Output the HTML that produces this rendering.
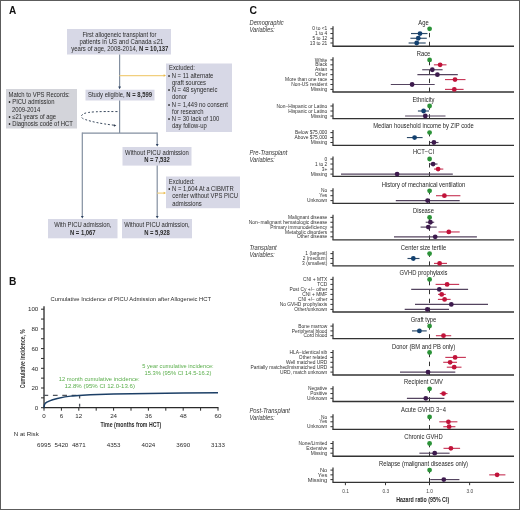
<!DOCTYPE html>
<html><head><meta charset="utf-8"><style>
html,body{margin:0;padding:0;background:#fff;}
svg{display:block;will-change:transform;font-family:"Liberation Sans", sans-serif;}
</style></head><body>
<svg width="520" height="510" viewBox="0 0 520 510">
<rect x="0" y="0" width="520" height="510" fill="#fff"/>
<text x="9.00" y="13.70" font-size="10.0" font-weight="bold" fill="#111">A</text>
<rect x="67" y="29" width="104.00" height="25.50" fill="#d7d8e6"/>
<text x="119.40" y="36.77" font-size="6.3" text-anchor="middle" textLength="74" lengthAdjust="spacingAndGlyphs" fill="#2b2b2b">First allogeneic transplant for</text>
<text x="121.40" y="43.57" font-size="6.3" text-anchor="middle" textLength="84" lengthAdjust="spacingAndGlyphs" fill="#2b2b2b">patients in US and Canada ≤21</text>
<text x="119.80" y="50.97" font-size="6.3" text-anchor="middle" textLength="97" lengthAdjust="spacingAndGlyphs" fill="#2b2b2b">years of age, 2008-2014, <tspan font-weight="bold">N = 10,137</tspan></text>
<line x1="119.6" y1="54.5" x2="119.6" y2="88" stroke="#838fa0" stroke-width="1.2"/>
<polygon points="118.19999999999999,86.60000000000001 121.0,86.60000000000001 119.6,89.2" fill="#2e4260"/>
<line x1="119.5" y1="75.6" x2="164.5" y2="75.6" stroke="#f1cf7e" stroke-width="1.2"/>
<polygon points="163.66,74.33999999999999 163.66,76.86 166,75.6" fill="#e8b84a"/>
<rect x="166" y="63.5" width="66.00" height="68.50" fill="#d7d8e6"/>
<text x="169.00" y="70.47" font-size="6.3" textLength="25.87" lengthAdjust="spacingAndGlyphs" fill="#2b2b2b">Excluded:</text>
<text x="168.00" y="77.57" font-size="6.3" textLength="45.34" lengthAdjust="spacingAndGlyphs" fill="#2b2b2b">• N = 11 alternate</text>
<text x="172.00" y="84.87" font-size="6.3" textLength="34.05" lengthAdjust="spacingAndGlyphs" fill="#2b2b2b">graft sources</text>
<text x="168.00" y="92.17" font-size="6.3" textLength="49.38" lengthAdjust="spacingAndGlyphs" fill="#2b2b2b">• N = 48 syngeneic</text>
<text x="172.00" y="99.37" font-size="6.3" textLength="15.06" lengthAdjust="spacingAndGlyphs" fill="#2b2b2b">donor</text>
<text x="168.00" y="106.67" font-size="6.3" textLength="59.86" lengthAdjust="spacingAndGlyphs" fill="#2b2b2b">• N = 1,449 no consent</text>
<text x="172.00" y="113.87" font-size="6.3" textLength="31.43" lengthAdjust="spacingAndGlyphs" fill="#2b2b2b">for research</text>
<text x="168.00" y="121.07" font-size="6.3" textLength="51.34" lengthAdjust="spacingAndGlyphs" fill="#2b2b2b">• N = 30 lack of 100</text>
<text x="172.00" y="128.37" font-size="6.3" textLength="34.71" lengthAdjust="spacingAndGlyphs" fill="#2b2b2b">day follow-up</text>
<rect x="85.5" y="89.7" width="69.00" height="10.80" fill="#d7d8e6"/>
<text x="120.00" y="97.47" font-size="6.3" text-anchor="middle" textLength="64.02" lengthAdjust="spacingAndGlyphs" fill="#2b2b2b">Study eligible, <tspan font-weight="bold">N = 8,599</tspan></text>
<rect x="6" y="89" width="71.00" height="39.50" fill="#d3d4da"/>
<text x="8.50" y="96.97" font-size="6.3" textLength="61.22" lengthAdjust="spacingAndGlyphs" fill="#2b2b2b">Match to VPS Records:</text>
<text x="8.50" y="104.37" font-size="6.3" textLength="45.93" lengthAdjust="spacingAndGlyphs" fill="#2b2b2b">• PICU admission</text>
<text x="12.00" y="111.57" font-size="6.3" textLength="28.17" lengthAdjust="spacingAndGlyphs" fill="#2b2b2b">2009-2014</text>
<text x="8.50" y="118.77" font-size="6.3" textLength="47.54" lengthAdjust="spacingAndGlyphs" fill="#2b2b2b">• ≤21 years of age</text>
<text x="8.50" y="126.27" font-size="6.3" textLength="64.26" lengthAdjust="spacingAndGlyphs" fill="#2b2b2b">• Diagnosis code of HCT</text>
<line x1="119.6" y1="100.5" x2="119.6" y2="133.1" stroke="#838fa0" stroke-width="1.2"/>
<path d="M117.5,111.6 C100,111.4 88,111.6 83.5,113.8 C80,115.7 81,118.5 85.5,119.6 C92,121.8 100,123.5 114,125.2" fill="none" stroke="#3a4a5e" stroke-width="1.0" stroke-dasharray="2,1.9"/>
<polygon points="113.96,124.33999999999999 113.96,126.86 116.3,125.6" fill="#2e3a4e"/>
<line x1="82.3" y1="133.1" x2="157.2" y2="133.1" stroke="#838fa0" stroke-width="1.2"/>
<line x1="82.3" y1="132.5" x2="82.3" y2="217" stroke="#838fa0" stroke-width="1.2"/>
<polygon points="80.89999999999999,216.0 83.7,216.0 82.3,218.6" fill="#2e4260"/>
<line x1="157.2" y1="132.5" x2="157.2" y2="145.5" stroke="#838fa0" stroke-width="1.2"/>
<polygon points="155.79999999999998,144.0 158.6,144.0 157.2,146.6" fill="#2e4260"/>
<rect x="122.5" y="147" width="69.00" height="18.60" fill="#d7d8e6"/>
<text x="157.00" y="155.17" font-size="6.3" text-anchor="middle" textLength="63.83" lengthAdjust="spacingAndGlyphs" fill="#2b2b2b">Without PICU admission</text>
<text x="157.00" y="162.27" font-size="6.3" text-anchor="middle" font-weight="bold" textLength="25.71" lengthAdjust="spacingAndGlyphs" fill="#2b2b2b">N = 7,532</text>
<line x1="157.2" y1="165.6" x2="157.2" y2="217" stroke="#838fa0" stroke-width="1.2"/>
<polygon points="155.79999999999998,216.0 158.6,216.0 157.2,218.6" fill="#2e4260"/>
<line x1="157.2" y1="193.1" x2="164.5" y2="193.1" stroke="#f1cf7e" stroke-width="1.2"/>
<polygon points="163.66,191.84 163.66,194.35999999999999 166,193.1" fill="#e8b84a"/>
<rect x="166" y="176.5" width="74.00" height="31.70" fill="#d7d8e6"/>
<text x="168.80" y="184.17" font-size="6.3" textLength="25.87" lengthAdjust="spacingAndGlyphs" fill="#2b2b2b">Excluded:</text>
<text x="168.30" y="191.07" font-size="6.3" textLength="65.41" lengthAdjust="spacingAndGlyphs" fill="#2b2b2b">• N = 1,604 At a CIBMTR</text>
<text x="172.30" y="198.37" font-size="6.3" textLength="65.8" lengthAdjust="spacingAndGlyphs" fill="#2b2b2b">center without VPS PICU</text>
<text x="172.30" y="205.67" font-size="6.3" textLength="29.46" lengthAdjust="spacingAndGlyphs" fill="#2b2b2b">admissions</text>
<rect x="48" y="219" width="69.50" height="19.30" fill="#d7d8e6"/>
<text x="82.80" y="227.27" font-size="6.3" text-anchor="middle" textLength="57.28" lengthAdjust="spacingAndGlyphs" fill="#2b2b2b">With PICU admission,</text>
<text x="82.80" y="234.57" font-size="6.3" text-anchor="middle" font-weight="bold" textLength="25.71" lengthAdjust="spacingAndGlyphs" fill="#2b2b2b">N = 1,067</text>
<rect x="122" y="219" width="70.00" height="19.30" fill="#d7d8e6"/>
<text x="157.00" y="227.27" font-size="6.3" text-anchor="middle" textLength="65.47" lengthAdjust="spacingAndGlyphs" fill="#2b2b2b">Without PICU admission,</text>
<text x="157.00" y="234.57" font-size="6.3" text-anchor="middle" font-weight="bold" textLength="25.71" lengthAdjust="spacingAndGlyphs" fill="#2b2b2b">N = 5,928</text>
<text x="9.00" y="285.47" font-size="10.2" font-weight="bold" fill="#111">B</text>
<text x="50.50" y="301.31" font-size="6.15" textLength="160.5" lengthAdjust="spacingAndGlyphs" fill="#2b2b2b">Cumulative Incidence of PICU Admission after Allogeneic HCT</text>
<line x1="44.0" y1="306.3" x2="44.0" y2="408.2" stroke="#2b2b2b" stroke-width="1.3"/>
<line x1="41.0" y1="407.7" x2="44.0" y2="407.7" stroke="#2b2b2b" stroke-width="1"/>
<line x1="41.0" y1="397.84999999999997" x2="44.0" y2="397.84999999999997" stroke="#2b2b2b" stroke-width="1"/>
<line x1="41.0" y1="388.0" x2="44.0" y2="388.0" stroke="#2b2b2b" stroke-width="1"/>
<line x1="41.0" y1="378.15" x2="44.0" y2="378.15" stroke="#2b2b2b" stroke-width="1"/>
<line x1="41.0" y1="368.3" x2="44.0" y2="368.3" stroke="#2b2b2b" stroke-width="1"/>
<line x1="41.0" y1="358.45" x2="44.0" y2="358.45" stroke="#2b2b2b" stroke-width="1"/>
<line x1="41.0" y1="348.59999999999997" x2="44.0" y2="348.59999999999997" stroke="#2b2b2b" stroke-width="1"/>
<line x1="41.0" y1="338.75" x2="44.0" y2="338.75" stroke="#2b2b2b" stroke-width="1"/>
<line x1="41.0" y1="328.9" x2="44.0" y2="328.9" stroke="#2b2b2b" stroke-width="1"/>
<line x1="41.0" y1="319.04999999999995" x2="44.0" y2="319.04999999999995" stroke="#2b2b2b" stroke-width="1"/>
<line x1="41.0" y1="309.2" x2="44.0" y2="309.2" stroke="#2b2b2b" stroke-width="1"/>
<text x="38.30" y="409.93" font-size="6.2" text-anchor="end" fill="#2b2b2b">0</text>
<text x="38.30" y="390.23" font-size="6.2" text-anchor="end" fill="#2b2b2b">20</text>
<text x="38.30" y="370.53" font-size="6.2" text-anchor="end" fill="#2b2b2b">40</text>
<text x="38.30" y="350.83" font-size="6.2" text-anchor="end" fill="#2b2b2b">60</text>
<text x="38.30" y="331.13" font-size="6.2" text-anchor="end" fill="#2b2b2b">80</text>
<text x="38.30" y="311.43" font-size="6.2" text-anchor="end" fill="#2b2b2b">100</text>
<text x="0" y="0" font-size="7.4" font-weight="bold" text-anchor="middle" fill="#3a3a3a" transform="translate(24.9,358.7) rotate(-90)" textLength="59" lengthAdjust="spacingAndGlyphs">Cumulative incidence, %</text>
<line x1="43.5" y1="407.7" x2="218.5" y2="407.7" stroke="#2b2b2b" stroke-width="1.2"/>
<line x1="44.0" y1="407.7" x2="44.0" y2="410.7" stroke="#2b2b2b" stroke-width="1"/>
<line x1="61.4" y1="407.7" x2="61.4" y2="410.7" stroke="#2b2b2b" stroke-width="1"/>
<line x1="78.8" y1="407.7" x2="78.8" y2="410.7" stroke="#2b2b2b" stroke-width="1"/>
<line x1="96.2" y1="407.7" x2="96.2" y2="410.7" stroke="#2b2b2b" stroke-width="1"/>
<line x1="113.6" y1="407.7" x2="113.6" y2="410.7" stroke="#2b2b2b" stroke-width="1"/>
<line x1="131.0" y1="407.7" x2="131.0" y2="410.7" stroke="#2b2b2b" stroke-width="1"/>
<line x1="148.4" y1="407.7" x2="148.4" y2="410.7" stroke="#2b2b2b" stroke-width="1"/>
<line x1="165.8" y1="407.7" x2="165.8" y2="410.7" stroke="#2b2b2b" stroke-width="1"/>
<line x1="183.2" y1="407.7" x2="183.2" y2="410.7" stroke="#2b2b2b" stroke-width="1"/>
<line x1="200.6" y1="407.7" x2="200.6" y2="410.7" stroke="#2b2b2b" stroke-width="1"/>
<line x1="218.0" y1="407.7" x2="218.0" y2="410.7" stroke="#2b2b2b" stroke-width="1"/>
<text x="44.00" y="418.23" font-size="6.2" text-anchor="middle" fill="#2b2b2b">0</text>
<text x="61.40" y="418.23" font-size="6.2" text-anchor="middle" fill="#2b2b2b">6</text>
<text x="78.80" y="418.23" font-size="6.2" text-anchor="middle" fill="#2b2b2b">12</text>
<text x="113.60" y="418.23" font-size="6.2" text-anchor="middle" fill="#2b2b2b">24</text>
<text x="148.40" y="418.23" font-size="6.2" text-anchor="middle" fill="#2b2b2b">36</text>
<text x="183.20" y="418.23" font-size="6.2" text-anchor="middle" fill="#2b2b2b">48</text>
<text x="218.00" y="418.23" font-size="6.2" text-anchor="middle" fill="#2b2b2b">60</text>
<text x="100.50" y="426.56" font-size="7.4" font-weight="bold" textLength="60.8" lengthAdjust="spacingAndGlyphs" fill="#2b2b2b">Time (months from HCT)</text>
<line x1="43.5" y1="395.3" x2="79.6" y2="395.3" stroke="#50555c" stroke-width="1.3" stroke-dasharray="4.7,4.7"/>
<line x1="79.6" y1="395.6" x2="79.6" y2="407.7" stroke="#50555c" stroke-width="1.3" stroke-dasharray="2.9,5.3"/>
<path d="M44.00,407.70 L44.12,406.32 L44.35,405.04 L45.10,403.46 L46.90,402.18 L49.71,400.90 L52.70,399.82 L57.34,398.44 L64.88,396.87 L72.71,395.88 L78.80,395.39 L90.40,394.80 L113.60,394.11 L148.40,393.52 L183.20,393.12 L218.00,392.83" fill="none" stroke="#1c3f66" stroke-width="1.5" stroke-linejoin="round"/>
<text x="58.70" y="381.10" font-size="6.1" textLength="81" lengthAdjust="spacingAndGlyphs" fill="#5aae4b">12 month cumulative incidence:</text>
<text x="64.50" y="388.20" font-size="6.1" textLength="70.5" lengthAdjust="spacingAndGlyphs" fill="#5aae4b">12.8% (95% CI 12.0-13.6)</text>
<text x="142.30" y="368.00" font-size="6.1" textLength="71.4" lengthAdjust="spacingAndGlyphs" fill="#5aae4b">5 year cumulative incidence:</text>
<text x="144.50" y="374.90" font-size="6.1" textLength="67" lengthAdjust="spacingAndGlyphs" fill="#5aae4b">15.3% (95% CI 14.5-16.2)</text>
<text x="13.70" y="436.33" font-size="6.2" fill="#2b2b2b">N at Risk</text>
<text x="44.00" y="446.73" font-size="6.2" text-anchor="middle" fill="#2b2b2b">6995</text>
<text x="61.40" y="446.73" font-size="6.2" text-anchor="middle" fill="#2b2b2b">5420</text>
<text x="78.80" y="446.73" font-size="6.2" text-anchor="middle" fill="#2b2b2b">4871</text>
<text x="113.60" y="446.73" font-size="6.2" text-anchor="middle" fill="#2b2b2b">4353</text>
<text x="148.40" y="446.73" font-size="6.2" text-anchor="middle" fill="#2b2b2b">4024</text>
<text x="183.20" y="446.73" font-size="6.2" text-anchor="middle" fill="#2b2b2b">3690</text>
<text x="218.00" y="446.73" font-size="6.2" text-anchor="middle" fill="#2b2b2b">3133</text>
<text x="249.60" y="14.04" font-size="10.4" font-weight="bold" fill="#111">C</text>
<text x="249.50" y="25.30" font-size="6.4" font-style="italic" textLength="34.25" lengthAdjust="spacingAndGlyphs" fill="#333">Demographic</text>
<text x="249.50" y="31.80" font-size="6.4" font-style="italic" textLength="25.18" lengthAdjust="spacingAndGlyphs" fill="#333">Variables:</text>
<text x="249.50" y="154.50" font-size="6.4" font-style="italic" textLength="37.88" lengthAdjust="spacingAndGlyphs" fill="#333">Pre-Transplant</text>
<text x="249.50" y="161.60" font-size="6.4" font-style="italic" textLength="25.18" lengthAdjust="spacingAndGlyphs" fill="#333">Variables:</text>
<text x="249.50" y="249.50" font-size="6.4" font-style="italic" textLength="27.0" lengthAdjust="spacingAndGlyphs" fill="#333">Transplant</text>
<text x="249.50" y="256.80" font-size="6.4" font-style="italic" textLength="25.18" lengthAdjust="spacingAndGlyphs" fill="#333">Variables:</text>
<text x="249.50" y="412.90" font-size="6.4" font-style="italic" textLength="40.44" lengthAdjust="spacingAndGlyphs" fill="#333">Post-Transplant</text>
<text x="249.50" y="419.80" font-size="6.4" font-style="italic" textLength="25.18" lengthAdjust="spacingAndGlyphs" fill="#333">Variables:</text>
<text x="423.50" y="25.07" font-size="6.3" text-anchor="middle" textLength="10.37" lengthAdjust="spacingAndGlyphs" fill="#262626">Age</text>
<line x1="333.0" y1="26.2" x2="333.0" y2="46.2" stroke="#333333" stroke-width="1.2"/>
<line x1="332.4" y1="46.2" x2="514.0" y2="46.2" stroke="#333333" stroke-width="1.35"/>
<line x1="429.5" y1="46.2" x2="429.5" y2="28.8" stroke="#333" stroke-width="1.0" stroke-dasharray="4.4,4.5"/>
<line x1="330.4" y1="28.8" x2="333.0" y2="28.8" stroke="#333333" stroke-width="1.0"/>
<text x="327.30" y="30.44" font-size="4.55" text-anchor="end" textLength="15.02" lengthAdjust="spacingAndGlyphs" fill="#333">0 to <1</text>
<circle cx="429.6" cy="28.8" r="2.4" fill="#2b9338"/>
<line x1="330.4" y1="33.53333333333333" x2="333.0" y2="33.53333333333333" stroke="#333333" stroke-width="1.0"/>
<text x="327.30" y="35.17" font-size="4.55" text-anchor="end" textLength="12.18" lengthAdjust="spacingAndGlyphs" fill="#333">1 to 4</text>
<line x1="411" y1="33.53333333333333" x2="427.5" y2="33.53333333333333" stroke="#2d4a68" stroke-width="1.15"/>
<circle cx="420.0" cy="33.53333333333333" r="2.4" fill="#12406f"/>
<line x1="330.4" y1="38.266666666666666" x2="333.0" y2="38.266666666666666" stroke="#333333" stroke-width="1.0"/>
<text x="327.30" y="39.90" font-size="4.55" text-anchor="end" textLength="14.89" lengthAdjust="spacingAndGlyphs" fill="#333">5 to 12</text>
<line x1="410.4" y1="38.266666666666666" x2="426.8" y2="38.266666666666666" stroke="#2d4a68" stroke-width="1.15"/>
<circle cx="418.3" cy="38.266666666666666" r="2.4" fill="#12406f"/>
<line x1="330.4" y1="43.0" x2="333.0" y2="43.0" stroke="#333333" stroke-width="1.0"/>
<text x="327.30" y="44.64" font-size="4.55" text-anchor="end" textLength="17.59" lengthAdjust="spacingAndGlyphs" fill="#333">13 to 21</text>
<line x1="408.6" y1="43.0" x2="425.7" y2="43.0" stroke="#2d4a68" stroke-width="1.15"/>
<circle cx="416.7" cy="43.0" r="2.4" fill="#12406f"/>
<text x="423.50" y="56.17" font-size="6.3" text-anchor="middle" textLength="13.6" lengthAdjust="spacingAndGlyphs" fill="#262626">Race</text>
<line x1="333.0" y1="57.3" x2="333.0" y2="92.0" stroke="#333333" stroke-width="1.2"/>
<line x1="332.4" y1="92.0" x2="514.0" y2="92.0" stroke="#333333" stroke-width="1.35"/>
<line x1="429.5" y1="92.0" x2="429.5" y2="59.9" stroke="#333" stroke-width="1.0" stroke-dasharray="4.4,4.5"/>
<line x1="330.4" y1="59.9" x2="333.0" y2="59.9" stroke="#333333" stroke-width="1.0"/>
<text x="327.30" y="61.54" font-size="4.55" text-anchor="end" textLength="12.44" lengthAdjust="spacingAndGlyphs" fill="#333">White</text>
<circle cx="429.6" cy="59.9" r="2.4" fill="#2b9338"/>
<line x1="330.4" y1="64.81666666666666" x2="333.0" y2="64.81666666666666" stroke="#333333" stroke-width="1.0"/>
<text x="327.30" y="66.45" font-size="4.55" text-anchor="end" textLength="11.91" lengthAdjust="spacingAndGlyphs" fill="#333">Black</text>
<line x1="433.9" y1="64.81666666666666" x2="446.5" y2="64.81666666666666" stroke="#c83a5a" stroke-width="1.15"/>
<circle cx="440.1" cy="64.81666666666666" r="2.4" fill="#c1133a"/>
<line x1="330.4" y1="69.73333333333333" x2="333.0" y2="69.73333333333333" stroke="#333333" stroke-width="1.0"/>
<text x="327.30" y="71.37" font-size="4.55" text-anchor="end" textLength="12.18" lengthAdjust="spacingAndGlyphs" fill="#333">Asian</text>
<line x1="422.2" y1="69.73333333333333" x2="442.6" y2="69.73333333333333" stroke="#54445f" stroke-width="1.15"/>
<circle cx="432.3" cy="69.73333333333333" r="2.4" fill="#3d1a4d"/>
<line x1="330.4" y1="74.65" x2="333.0" y2="74.65" stroke="#333333" stroke-width="1.0"/>
<text x="327.30" y="76.29" font-size="4.55" text-anchor="end" textLength="12.18" lengthAdjust="spacingAndGlyphs" fill="#333">Other</text>
<line x1="417.4" y1="74.65" x2="457.8" y2="74.65" stroke="#54445f" stroke-width="1.15"/>
<circle cx="437.4" cy="74.65" r="2.4" fill="#3d1a4d"/>
<line x1="330.4" y1="79.56666666666666" x2="333.0" y2="79.56666666666666" stroke="#333333" stroke-width="1.0"/>
<text x="327.30" y="81.20" font-size="4.55" text-anchor="end" textLength="42.22" lengthAdjust="spacingAndGlyphs" fill="#333">More than one race</text>
<line x1="445" y1="79.56666666666666" x2="465.5" y2="79.56666666666666" stroke="#c83a5a" stroke-width="1.15"/>
<circle cx="455" cy="79.56666666666666" r="2.4" fill="#c1133a"/>
<line x1="330.4" y1="84.48333333333333" x2="333.0" y2="84.48333333333333" stroke="#333333" stroke-width="1.0"/>
<text x="327.30" y="86.12" font-size="4.55" text-anchor="end" textLength="35.99" lengthAdjust="spacingAndGlyphs" fill="#333">Non-US resident</text>
<line x1="390.8" y1="84.48333333333333" x2="434.7" y2="84.48333333333333" stroke="#54445f" stroke-width="1.15"/>
<circle cx="412.1" cy="84.48333333333333" r="2.4" fill="#3d1a4d"/>
<line x1="330.4" y1="89.4" x2="333.0" y2="89.4" stroke="#333333" stroke-width="1.0"/>
<text x="327.30" y="91.04" font-size="4.55" text-anchor="end" textLength="16.5" lengthAdjust="spacingAndGlyphs" fill="#333">Missing</text>
<line x1="445" y1="89.4" x2="463.6" y2="89.4" stroke="#c83a5a" stroke-width="1.15"/>
<circle cx="454.3" cy="89.4" r="2.4" fill="#c1133a"/>
<text x="423.50" y="102.17" font-size="6.3" text-anchor="middle" textLength="22.02" lengthAdjust="spacingAndGlyphs" fill="#262626">Ethnicity</text>
<line x1="333.0" y1="103.4" x2="333.0" y2="118.6" stroke="#333333" stroke-width="1.2"/>
<line x1="332.4" y1="118.6" x2="514.0" y2="118.6" stroke="#333333" stroke-width="1.35"/>
<line x1="429.5" y1="118.6" x2="429.5" y2="106.0" stroke="#333" stroke-width="1.0" stroke-dasharray="4.4,4.5"/>
<line x1="330.4" y1="106.0" x2="333.0" y2="106.0" stroke="#333333" stroke-width="1.0"/>
<text x="327.30" y="107.64" font-size="4.55" text-anchor="end" textLength="50.74" lengthAdjust="spacingAndGlyphs" fill="#333">Non−Hispanic or Latino</text>
<circle cx="429.6" cy="106.0" r="2.4" fill="#2b9338"/>
<line x1="330.4" y1="111.0" x2="333.0" y2="111.0" stroke="#333333" stroke-width="1.0"/>
<text x="327.30" y="112.64" font-size="4.55" text-anchor="end" textLength="38.97" lengthAdjust="spacingAndGlyphs" fill="#333">Hispanic or Latino</text>
<line x1="417.9" y1="111.0" x2="429.0" y2="111.0" stroke="#2d4a68" stroke-width="1.15"/>
<circle cx="423.6" cy="111.0" r="2.4" fill="#12406f"/>
<line x1="330.4" y1="116.0" x2="333.0" y2="116.0" stroke="#333333" stroke-width="1.0"/>
<text x="327.30" y="117.64" font-size="4.55" text-anchor="end" textLength="16.5" lengthAdjust="spacingAndGlyphs" fill="#333">Missing</text>
<line x1="405.1" y1="116.0" x2="445.5" y2="116.0" stroke="#54445f" stroke-width="1.15"/>
<circle cx="425.3" cy="116.0" r="2.4" fill="#3d1a4d"/>
<text x="423.50" y="128.47" font-size="6.3" text-anchor="middle" textLength="100.63" lengthAdjust="spacingAndGlyphs" fill="#262626">Median household income by ZIP code</text>
<line x1="333.0" y1="130.0" x2="333.0" y2="145.3" stroke="#333333" stroke-width="1.2"/>
<line x1="332.4" y1="145.3" x2="514.0" y2="145.3" stroke="#333333" stroke-width="1.35"/>
<line x1="429.5" y1="145.3" x2="429.5" y2="132.6" stroke="#333" stroke-width="1.0" stroke-dasharray="4.4,4.5"/>
<line x1="330.4" y1="132.6" x2="333.0" y2="132.6" stroke="#333333" stroke-width="1.0"/>
<text x="327.30" y="134.24" font-size="4.55" text-anchor="end" textLength="32.21" lengthAdjust="spacingAndGlyphs" fill="#333">Below $75,000</text>
<circle cx="429.6" cy="132.6" r="2.4" fill="#2b9338"/>
<line x1="330.4" y1="137.55" x2="333.0" y2="137.55" stroke="#333333" stroke-width="1.0"/>
<text x="327.30" y="139.19" font-size="4.55" text-anchor="end" textLength="32.75" lengthAdjust="spacingAndGlyphs" fill="#333">Above $75,000</text>
<line x1="406.9" y1="137.55" x2="422.6" y2="137.55" stroke="#2d4a68" stroke-width="1.15"/>
<circle cx="414.6" cy="137.55" r="2.4" fill="#12406f"/>
<line x1="330.4" y1="142.5" x2="333.0" y2="142.5" stroke="#333333" stroke-width="1.0"/>
<text x="327.30" y="144.14" font-size="4.55" text-anchor="end" textLength="16.5" lengthAdjust="spacingAndGlyphs" fill="#333">Missing</text>
<line x1="429.6" y1="142.5" x2="438.5" y2="142.5" stroke="#54445f" stroke-width="1.15"/>
<circle cx="433.9" cy="142.5" r="2.4" fill="#3d1a4d"/>
<text x="423.50" y="154.47" font-size="6.3" text-anchor="middle" textLength="21.21" lengthAdjust="spacingAndGlyphs" fill="#262626">HCT−CI</text>
<line x1="333.0" y1="156.4" x2="333.0" y2="176.4" stroke="#333333" stroke-width="1.2"/>
<line x1="332.4" y1="176.4" x2="514.0" y2="176.4" stroke="#333333" stroke-width="1.35"/>
<line x1="429.5" y1="176.4" x2="429.5" y2="159.0" stroke="#333" stroke-width="1.0" stroke-dasharray="4.4,4.5"/>
<line x1="330.4" y1="159.0" x2="333.0" y2="159.0" stroke="#333333" stroke-width="1.0"/>
<text x="327.30" y="160.64" font-size="4.55" text-anchor="end" textLength="2.71" lengthAdjust="spacingAndGlyphs" fill="#333">0</text>
<circle cx="429.6" cy="159.0" r="2.4" fill="#2b9338"/>
<line x1="330.4" y1="164.03333333333333" x2="333.0" y2="164.03333333333333" stroke="#333333" stroke-width="1.0"/>
<text x="327.30" y="165.67" font-size="4.55" text-anchor="end" textLength="12.18" lengthAdjust="spacingAndGlyphs" fill="#333">1 to 2</text>
<line x1="429.0" y1="164.03333333333333" x2="437.5" y2="164.03333333333333" stroke="#54445f" stroke-width="1.15"/>
<circle cx="433.1" cy="164.03333333333333" r="2.4" fill="#3d1a4d"/>
<line x1="330.4" y1="169.06666666666666" x2="333.0" y2="169.06666666666666" stroke="#333333" stroke-width="1.0"/>
<text x="327.30" y="170.70" font-size="4.55" text-anchor="end" textLength="5.55" lengthAdjust="spacingAndGlyphs" fill="#333">3+</text>
<line x1="434.0" y1="169.06666666666666" x2="443.3" y2="169.06666666666666" stroke="#c83a5a" stroke-width="1.15"/>
<circle cx="438.1" cy="169.06666666666666" r="2.4" fill="#c1133a"/>
<line x1="330.4" y1="174.1" x2="333.0" y2="174.1" stroke="#333333" stroke-width="1.0"/>
<text x="327.30" y="175.74" font-size="4.55" text-anchor="end" textLength="16.5" lengthAdjust="spacingAndGlyphs" fill="#333">Missing</text>
<line x1="341" y1="174.1" x2="452.8" y2="174.1" stroke="#54445f" stroke-width="1.15"/>
<circle cx="397.1" cy="174.1" r="2.4" fill="#3d1a4d"/>
<text x="423.50" y="186.77" font-size="6.3" text-anchor="middle" textLength="83.56" lengthAdjust="spacingAndGlyphs" fill="#262626">History of mechanical ventilation</text>
<line x1="333.0" y1="188.20000000000002" x2="333.0" y2="203.3" stroke="#333333" stroke-width="1.2"/>
<line x1="332.4" y1="203.3" x2="514.0" y2="203.3" stroke="#333333" stroke-width="1.35"/>
<line x1="429.5" y1="203.3" x2="429.5" y2="190.8" stroke="#333" stroke-width="1.0" stroke-dasharray="4.4,4.5"/>
<line x1="330.4" y1="190.8" x2="333.0" y2="190.8" stroke="#333333" stroke-width="1.0"/>
<text x="327.30" y="192.44" font-size="4.55" text-anchor="end" textLength="6.22" lengthAdjust="spacingAndGlyphs" fill="#333">No</text>
<circle cx="429.6" cy="190.8" r="2.4" fill="#2b9338"/>
<line x1="330.4" y1="195.7" x2="333.0" y2="195.7" stroke="#333333" stroke-width="1.0"/>
<text x="327.30" y="197.34" font-size="4.55" text-anchor="end" textLength="7.94" lengthAdjust="spacingAndGlyphs" fill="#333">Yes</text>
<line x1="436" y1="195.7" x2="460.4" y2="195.7" stroke="#c83a5a" stroke-width="1.15"/>
<circle cx="444.4" cy="195.7" r="2.4" fill="#c1133a"/>
<line x1="330.4" y1="200.6" x2="333.0" y2="200.6" stroke="#333333" stroke-width="1.0"/>
<text x="327.30" y="202.24" font-size="4.55" text-anchor="end" textLength="20.3" lengthAdjust="spacingAndGlyphs" fill="#333">Unknown</text>
<line x1="395.8" y1="200.6" x2="459.7" y2="200.6" stroke="#54445f" stroke-width="1.15"/>
<circle cx="427.6" cy="200.6" r="2.4" fill="#3d1a4d"/>
<text x="423.50" y="213.17" font-size="6.3" text-anchor="middle" textLength="21.05" lengthAdjust="spacingAndGlyphs" fill="#262626">Disease</text>
<line x1="333.0" y1="214.8" x2="333.0" y2="239.8" stroke="#333333" stroke-width="1.2"/>
<line x1="332.4" y1="239.8" x2="514.0" y2="239.8" stroke="#333333" stroke-width="1.35"/>
<line x1="429.5" y1="239.8" x2="429.5" y2="217.4" stroke="#333" stroke-width="1.0" stroke-dasharray="4.4,4.5"/>
<line x1="330.4" y1="217.4" x2="333.0" y2="217.4" stroke="#333333" stroke-width="1.0"/>
<text x="327.30" y="219.04" font-size="4.55" text-anchor="end" textLength="39.24" lengthAdjust="spacingAndGlyphs" fill="#333">Malignant disease</text>
<circle cx="429.6" cy="217.4" r="2.4" fill="#2b9338"/>
<line x1="330.4" y1="222.25" x2="333.0" y2="222.25" stroke="#333333" stroke-width="1.0"/>
<text x="327.30" y="223.89" font-size="4.55" text-anchor="end" textLength="78.62" lengthAdjust="spacingAndGlyphs" fill="#333">Non−malignant hematologic disease</text>
<line x1="425.7" y1="222.25" x2="434.2" y2="222.25" stroke="#54445f" stroke-width="1.15"/>
<circle cx="430.4" cy="222.25" r="2.4" fill="#3d1a4d"/>
<line x1="330.4" y1="227.10000000000002" x2="333.0" y2="227.10000000000002" stroke="#333333" stroke-width="1.0"/>
<text x="327.30" y="228.74" font-size="4.55" text-anchor="end" textLength="57.08" lengthAdjust="spacingAndGlyphs" fill="#333">Primary immunodeficiency</text>
<line x1="420.6" y1="227.10000000000002" x2="436.7" y2="227.10000000000002" stroke="#54445f" stroke-width="1.15"/>
<circle cx="428.3" cy="227.10000000000002" r="2.4" fill="#3d1a4d"/>
<line x1="330.4" y1="231.95000000000002" x2="333.0" y2="231.95000000000002" stroke="#333333" stroke-width="1.0"/>
<text x="327.30" y="233.59" font-size="4.55" text-anchor="end" textLength="42.21" lengthAdjust="spacingAndGlyphs" fill="#333">Metabolic disorders</text>
<line x1="438.5" y1="231.95000000000002" x2="459.7" y2="231.95000000000002" stroke="#c83a5a" stroke-width="1.15"/>
<circle cx="448.8" cy="231.95000000000002" r="2.4" fill="#c1133a"/>
<line x1="330.4" y1="236.8" x2="333.0" y2="236.8" stroke="#333333" stroke-width="1.0"/>
<text x="327.30" y="238.44" font-size="4.55" text-anchor="end" textLength="30.31" lengthAdjust="spacingAndGlyphs" fill="#333">Other disease</text>
<line x1="394" y1="236.8" x2="476.9" y2="236.8" stroke="#54445f" stroke-width="1.15"/>
<circle cx="435.2" cy="236.8" r="2.4" fill="#3d1a4d"/>
<text x="423.50" y="249.77" font-size="6.3" text-anchor="middle" textLength="45.34" lengthAdjust="spacingAndGlyphs" fill="#262626">Center size tertile</text>
<line x1="333.0" y1="251.0" x2="333.0" y2="265.8" stroke="#333333" stroke-width="1.2"/>
<line x1="332.4" y1="265.8" x2="514.0" y2="265.8" stroke="#333333" stroke-width="1.35"/>
<line x1="429.5" y1="265.8" x2="429.5" y2="253.6" stroke="#333" stroke-width="1.0" stroke-dasharray="4.4,4.5"/>
<line x1="330.4" y1="253.6" x2="333.0" y2="253.6" stroke="#333333" stroke-width="1.0"/>
<text x="327.30" y="255.24" font-size="4.55" text-anchor="end" textLength="21.91" lengthAdjust="spacingAndGlyphs" fill="#333">1 (largest)</text>
<circle cx="429.6" cy="253.6" r="2.4" fill="#2b9338"/>
<line x1="330.4" y1="258.5" x2="333.0" y2="258.5" stroke="#333333" stroke-width="1.0"/>
<text x="327.30" y="260.14" font-size="4.55" text-anchor="end" textLength="24.62" lengthAdjust="spacingAndGlyphs" fill="#333">2 (medium)</text>
<line x1="407.5" y1="258.5" x2="419.5" y2="258.5" stroke="#2d4a68" stroke-width="1.15"/>
<circle cx="413.3" cy="258.5" r="2.4" fill="#12406f"/>
<line x1="330.4" y1="263.4" x2="333.0" y2="263.4" stroke="#333333" stroke-width="1.0"/>
<text x="327.30" y="265.04" font-size="4.55" text-anchor="end" textLength="25.16" lengthAdjust="spacingAndGlyphs" fill="#333">3 (smallest)</text>
<line x1="434" y1="263.4" x2="447" y2="263.4" stroke="#c83a5a" stroke-width="1.15"/>
<circle cx="439.6" cy="263.4" r="2.4" fill="#c1133a"/>
<text x="423.50" y="274.87" font-size="6.3" text-anchor="middle" textLength="47.93" lengthAdjust="spacingAndGlyphs" fill="#262626">GVHD prophylaxis</text>
<line x1="333.0" y1="276.79999999999995" x2="333.0" y2="312.0" stroke="#333333" stroke-width="1.2"/>
<line x1="332.4" y1="312.0" x2="514.0" y2="312.0" stroke="#333333" stroke-width="1.35"/>
<line x1="429.5" y1="312.0" x2="429.5" y2="279.4" stroke="#333" stroke-width="1.0" stroke-dasharray="4.4,4.5"/>
<line x1="330.4" y1="279.4" x2="333.0" y2="279.4" stroke="#333333" stroke-width="1.0"/>
<text x="327.30" y="281.04" font-size="4.55" text-anchor="end" textLength="24.21" lengthAdjust="spacingAndGlyphs" fill="#333">CNI + MTX</text>
<circle cx="429.6" cy="279.4" r="2.4" fill="#2b9338"/>
<line x1="330.4" y1="284.4" x2="333.0" y2="284.4" stroke="#333333" stroke-width="1.0"/>
<text x="327.30" y="286.04" font-size="4.55" text-anchor="end" textLength="10.01" lengthAdjust="spacingAndGlyphs" fill="#333">TCD</text>
<line x1="435.6" y1="284.4" x2="459.2" y2="284.4" stroke="#c83a5a" stroke-width="1.15"/>
<circle cx="447.1" cy="284.4" r="2.4" fill="#c1133a"/>
<line x1="330.4" y1="289.4" x2="333.0" y2="289.4" stroke="#333333" stroke-width="1.0"/>
<text x="327.30" y="291.04" font-size="4.55" text-anchor="end" textLength="37.88" lengthAdjust="spacingAndGlyphs" fill="#333">Post Cy +/− other</text>
<line x1="411.2" y1="289.4" x2="468.1" y2="289.4" stroke="#54445f" stroke-width="1.15"/>
<circle cx="439.3" cy="289.4" r="2.4" fill="#3d1a4d"/>
<line x1="330.4" y1="294.4" x2="333.0" y2="294.4" stroke="#333333" stroke-width="1.0"/>
<text x="327.30" y="296.04" font-size="4.55" text-anchor="end" textLength="25.02" lengthAdjust="spacingAndGlyphs" fill="#333">CNI + MMF</text>
<line x1="438.0" y1="294.4" x2="445.8" y2="294.4" stroke="#c83a5a" stroke-width="1.15"/>
<circle cx="441.7" cy="294.4" r="2.4" fill="#c1133a"/>
<line x1="330.4" y1="299.4" x2="333.0" y2="299.4" stroke="#333333" stroke-width="1.0"/>
<text x="327.30" y="301.04" font-size="4.55" text-anchor="end" textLength="29.22" lengthAdjust="spacingAndGlyphs" fill="#333">CNI +/− other</text>
<line x1="437.9" y1="299.4" x2="450.6" y2="299.4" stroke="#c83a5a" stroke-width="1.15"/>
<circle cx="444.6" cy="299.4" r="2.4" fill="#c1133a"/>
<line x1="330.4" y1="304.4" x2="333.0" y2="304.4" stroke="#333333" stroke-width="1.0"/>
<text x="327.30" y="306.04" font-size="4.55" text-anchor="end" textLength="47.62" lengthAdjust="spacingAndGlyphs" fill="#333">No GVHD prophylaxis</text>
<line x1="415.0" y1="304.4" x2="488.0" y2="304.4" stroke="#54445f" stroke-width="1.15"/>
<circle cx="451.3" cy="304.4" r="2.4" fill="#3d1a4d"/>
<line x1="330.4" y1="309.4" x2="333.0" y2="309.4" stroke="#333333" stroke-width="1.0"/>
<text x="327.30" y="311.04" font-size="4.55" text-anchor="end" textLength="33.01" lengthAdjust="spacingAndGlyphs" fill="#333">Other/unknown</text>
<line x1="404.7" y1="309.4" x2="449.0" y2="309.4" stroke="#54445f" stroke-width="1.15"/>
<circle cx="427.3" cy="309.4" r="2.4" fill="#3d1a4d"/>
<text x="423.50" y="322.17" font-size="6.3" text-anchor="middle" textLength="25.58" lengthAdjust="spacingAndGlyphs" fill="#262626">Graft type</text>
<line x1="333.0" y1="323.5" x2="333.0" y2="338.6" stroke="#333333" stroke-width="1.2"/>
<line x1="332.4" y1="338.6" x2="514.0" y2="338.6" stroke="#333333" stroke-width="1.35"/>
<line x1="429.5" y1="338.6" x2="429.5" y2="326.1" stroke="#333" stroke-width="1.0" stroke-dasharray="4.4,4.5"/>
<line x1="330.4" y1="326.1" x2="333.0" y2="326.1" stroke="#333333" stroke-width="1.0"/>
<text x="327.30" y="327.74" font-size="4.55" text-anchor="end" textLength="28.95" lengthAdjust="spacingAndGlyphs" fill="#333">Bone marrow</text>
<circle cx="429.6" cy="326.1" r="2.4" fill="#2b9338"/>
<line x1="330.4" y1="330.9" x2="333.0" y2="330.9" stroke="#333333" stroke-width="1.0"/>
<text x="327.30" y="332.54" font-size="4.55" text-anchor="end" textLength="35.45" lengthAdjust="spacingAndGlyphs" fill="#333">Peripheral blood</text>
<line x1="412.0" y1="330.9" x2="426.7" y2="330.9" stroke="#2d4a68" stroke-width="1.15"/>
<circle cx="419.4" cy="330.9" r="2.4" fill="#12406f"/>
<line x1="330.4" y1="335.7" x2="333.0" y2="335.7" stroke="#333333" stroke-width="1.0"/>
<text x="327.30" y="337.34" font-size="4.55" text-anchor="end" textLength="23.82" lengthAdjust="spacingAndGlyphs" fill="#333">Cord blood</text>
<line x1="435.9" y1="335.7" x2="451.2" y2="335.7" stroke="#c83a5a" stroke-width="1.15"/>
<circle cx="443.5" cy="335.7" r="2.4" fill="#c1133a"/>
<text x="423.50" y="348.77" font-size="6.3" text-anchor="middle" textLength="63.15" lengthAdjust="spacingAndGlyphs" fill="#262626">Donor (BM and PB only)</text>
<line x1="333.0" y1="349.9" x2="333.0" y2="375.0" stroke="#333333" stroke-width="1.2"/>
<line x1="332.4" y1="375.0" x2="514.0" y2="375.0" stroke="#333333" stroke-width="1.35"/>
<line x1="429.5" y1="375.0" x2="429.5" y2="352.5" stroke="#333" stroke-width="1.0" stroke-dasharray="4.4,4.5"/>
<line x1="330.4" y1="352.5" x2="333.0" y2="352.5" stroke="#333333" stroke-width="1.0"/>
<text x="327.30" y="354.14" font-size="4.55" text-anchor="end" textLength="37.75" lengthAdjust="spacingAndGlyphs" fill="#333">HLA−identical sib</text>
<circle cx="429.6" cy="352.5" r="2.4" fill="#2b9338"/>
<line x1="330.4" y1="357.4" x2="333.0" y2="357.4" stroke="#333333" stroke-width="1.0"/>
<text x="327.30" y="359.04" font-size="4.55" text-anchor="end" textLength="28.41" lengthAdjust="spacingAndGlyphs" fill="#333">Other related</text>
<line x1="445.3" y1="357.4" x2="465.9" y2="357.4" stroke="#c83a5a" stroke-width="1.15"/>
<circle cx="455.1" cy="357.4" r="2.4" fill="#c1133a"/>
<line x1="330.4" y1="362.3" x2="333.0" y2="362.3" stroke="#333333" stroke-width="1.0"/>
<text x="327.30" y="363.94" font-size="4.55" text-anchor="end" textLength="41.3" lengthAdjust="spacingAndGlyphs" fill="#333">Well matched URD</text>
<line x1="443.2" y1="362.3" x2="457.0" y2="362.3" stroke="#c83a5a" stroke-width="1.15"/>
<circle cx="450.1" cy="362.3" r="2.4" fill="#c1133a"/>
<line x1="330.4" y1="367.20000000000005" x2="333.0" y2="367.20000000000005" stroke="#333333" stroke-width="1.0"/>
<text x="327.30" y="368.84" font-size="4.55" text-anchor="end" textLength="76.83" lengthAdjust="spacingAndGlyphs" fill="#333">Partially matched/mismatched URD</text>
<line x1="446.8" y1="367.20000000000005" x2="461.5" y2="367.20000000000005" stroke="#c83a5a" stroke-width="1.15"/>
<circle cx="454.2" cy="367.20000000000005" r="2.4" fill="#c1133a"/>
<line x1="330.4" y1="372.1" x2="333.0" y2="372.1" stroke="#333333" stroke-width="1.0"/>
<text x="327.30" y="373.74" font-size="4.55" text-anchor="end" textLength="47.35" lengthAdjust="spacingAndGlyphs" fill="#333">URD, match unknown</text>
<line x1="400.0" y1="372.1" x2="455.3" y2="372.1" stroke="#54445f" stroke-width="1.15"/>
<circle cx="428.0" cy="372.1" r="2.4" fill="#3d1a4d"/>
<text x="423.50" y="384.17" font-size="6.3" text-anchor="middle" textLength="38.86" lengthAdjust="spacingAndGlyphs" fill="#262626">Recipient CMV</text>
<line x1="333.0" y1="386.2" x2="333.0" y2="401.5" stroke="#333333" stroke-width="1.2"/>
<line x1="332.4" y1="401.5" x2="514.0" y2="401.5" stroke="#333333" stroke-width="1.35"/>
<line x1="429.5" y1="401.5" x2="429.5" y2="388.8" stroke="#333" stroke-width="1.0" stroke-dasharray="4.4,4.5"/>
<line x1="330.4" y1="388.8" x2="333.0" y2="388.8" stroke="#333333" stroke-width="1.0"/>
<text x="327.30" y="390.44" font-size="4.55" text-anchor="end" textLength="19.21" lengthAdjust="spacingAndGlyphs" fill="#333">Negative</text>
<circle cx="429.6" cy="388.8" r="2.4" fill="#2b9338"/>
<line x1="330.4" y1="393.55" x2="333.0" y2="393.55" stroke="#333333" stroke-width="1.0"/>
<text x="327.30" y="395.19" font-size="4.55" text-anchor="end" textLength="17.05" lengthAdjust="spacingAndGlyphs" fill="#333">Positive</text>
<line x1="439.8" y1="393.55" x2="447.5" y2="393.55" stroke="#c83a5a" stroke-width="1.15"/>
<circle cx="443.6" cy="393.55" r="2.4" fill="#c1133a"/>
<line x1="330.4" y1="398.3" x2="333.0" y2="398.3" stroke="#333333" stroke-width="1.0"/>
<text x="327.30" y="399.94" font-size="4.55" text-anchor="end" textLength="20.3" lengthAdjust="spacingAndGlyphs" fill="#333">Unknown</text>
<line x1="406.9" y1="398.3" x2="444.4" y2="398.3" stroke="#54445f" stroke-width="1.15"/>
<circle cx="425.8" cy="398.3" r="2.4" fill="#3d1a4d"/>
<text x="423.50" y="411.67" font-size="6.3" text-anchor="middle" textLength="44.86" lengthAdjust="spacingAndGlyphs" fill="#262626">Acute GVHD 3−4</text>
<line x1="333.0" y1="414.29999999999995" x2="333.0" y2="429.4" stroke="#333333" stroke-width="1.2"/>
<line x1="332.4" y1="429.4" x2="514.0" y2="429.4" stroke="#333333" stroke-width="1.35"/>
<line x1="429.5" y1="429.4" x2="429.5" y2="416.9" stroke="#333" stroke-width="1.0" stroke-dasharray="4.4,4.5"/>
<line x1="330.4" y1="416.9" x2="333.0" y2="416.9" stroke="#333333" stroke-width="1.0"/>
<text x="327.30" y="418.54" font-size="4.55" text-anchor="end" textLength="6.22" lengthAdjust="spacingAndGlyphs" fill="#333">No</text>
<circle cx="429.6" cy="416.9" r="2.4" fill="#2b9338"/>
<line x1="330.4" y1="421.79999999999995" x2="333.0" y2="421.79999999999995" stroke="#333333" stroke-width="1.0"/>
<text x="327.30" y="423.44" font-size="4.55" text-anchor="end" textLength="7.94" lengthAdjust="spacingAndGlyphs" fill="#333">Yes</text>
<line x1="439.3" y1="421.79999999999995" x2="457.4" y2="421.79999999999995" stroke="#c83a5a" stroke-width="1.15"/>
<circle cx="448.4" cy="421.79999999999995" r="2.4" fill="#c1133a"/>
<line x1="330.4" y1="426.7" x2="333.0" y2="426.7" stroke="#333333" stroke-width="1.0"/>
<text x="327.30" y="428.34" font-size="4.55" text-anchor="end" textLength="20.3" lengthAdjust="spacingAndGlyphs" fill="#333">Unknown</text>
<line x1="443.3" y1="426.7" x2="455.4" y2="426.7" stroke="#c83a5a" stroke-width="1.15"/>
<circle cx="449.1" cy="426.7" r="2.4" fill="#c1133a"/>
<text x="423.50" y="439.47" font-size="6.3" text-anchor="middle" textLength="38.54" lengthAdjust="spacingAndGlyphs" fill="#262626">Chronic GVHD</text>
<line x1="333.0" y1="440.9" x2="333.0" y2="456.2" stroke="#333333" stroke-width="1.2"/>
<line x1="332.4" y1="456.2" x2="514.0" y2="456.2" stroke="#333333" stroke-width="1.35"/>
<line x1="429.5" y1="456.2" x2="429.5" y2="443.5" stroke="#333" stroke-width="1.0" stroke-dasharray="4.4,4.5"/>
<line x1="330.4" y1="443.5" x2="333.0" y2="443.5" stroke="#333333" stroke-width="1.0"/>
<text x="327.30" y="445.14" font-size="4.55" text-anchor="end" textLength="28.68" lengthAdjust="spacingAndGlyphs" fill="#333">None/Limited</text>
<circle cx="429.6" cy="443.5" r="2.4" fill="#2b9338"/>
<line x1="330.4" y1="448.35" x2="333.0" y2="448.35" stroke="#333333" stroke-width="1.0"/>
<text x="327.30" y="449.99" font-size="4.55" text-anchor="end" textLength="21.11" lengthAdjust="spacingAndGlyphs" fill="#333">Extensive</text>
<line x1="443.5" y1="448.35" x2="460.1" y2="448.35" stroke="#c83a5a" stroke-width="1.15"/>
<circle cx="450.9" cy="448.35" r="2.4" fill="#c1133a"/>
<line x1="330.4" y1="453.2" x2="333.0" y2="453.2" stroke="#333333" stroke-width="1.0"/>
<text x="327.30" y="454.84" font-size="4.55" text-anchor="end" textLength="16.5" lengthAdjust="spacingAndGlyphs" fill="#333">Missing</text>
<line x1="419.4" y1="453.2" x2="449.6" y2="453.2" stroke="#54445f" stroke-width="1.15"/>
<circle cx="434.7" cy="453.2" r="2.4" fill="#3d1a4d"/>
<text x="423.50" y="466.27" font-size="6.3" text-anchor="middle" textLength="89.07" lengthAdjust="spacingAndGlyphs" fill="#262626">Relapse (malignant diseases only)</text>
<line x1="333.0" y1="467.5" x2="333.0" y2="482.3" stroke="#333333" stroke-width="1.2"/>
<line x1="332.4" y1="482.3" x2="514.0" y2="482.3" stroke="#333333" stroke-width="1.35"/>
<line x1="429.5" y1="482.3" x2="429.5" y2="470.1" stroke="#333" stroke-width="1.0" stroke-dasharray="4.4,4.5"/>
<line x1="330.4" y1="470.1" x2="333.0" y2="470.1" stroke="#333333" stroke-width="1.0"/>
<text x="327.30" y="472.19" font-size="5.8" text-anchor="end" textLength="7.41" lengthAdjust="spacingAndGlyphs" fill="#333">No</text>
<circle cx="429.6" cy="470.1" r="2.4" fill="#2b9338"/>
<line x1="330.4" y1="474.85" x2="333.0" y2="474.85" stroke="#333333" stroke-width="1.0"/>
<text x="327.30" y="476.94" font-size="5.8" text-anchor="end" textLength="9.46" lengthAdjust="spacingAndGlyphs" fill="#333">Yes</text>
<line x1="489.2" y1="474.85" x2="505.4" y2="474.85" stroke="#c83a5a" stroke-width="1.15"/>
<circle cx="497.1" cy="474.85" r="2.4" fill="#c1133a"/>
<line x1="330.4" y1="479.6" x2="333.0" y2="479.6" stroke="#333333" stroke-width="1.0"/>
<text x="327.30" y="481.69" font-size="5.8" text-anchor="end" textLength="19.66" lengthAdjust="spacingAndGlyphs" fill="#333">Missing</text>
<line x1="430.2" y1="479.6" x2="459.4" y2="479.6" stroke="#54445f" stroke-width="1.15"/>
<circle cx="443.8" cy="479.6" r="2.4" fill="#3d1a4d"/>
<line x1="345.4" y1="482.4" x2="345.4" y2="485.2" stroke="#333333" stroke-width="1.0"/>
<text x="345.60" y="492.73" font-size="4.8" text-anchor="middle" fill="#444">0.1</text>
<line x1="385.52589752192364" y1="482.4" x2="385.52589752192364" y2="485.2" stroke="#333333" stroke-width="1.0"/>
<text x="385.73" y="492.73" font-size="4.8" text-anchor="middle" fill="#444">0.3</text>
<line x1="429.5" y1="482.4" x2="429.5" y2="485.2" stroke="#333333" stroke-width="1.0"/>
<text x="429.70" y="492.73" font-size="4.8" text-anchor="middle" fill="#444">1.0</text>
<line x1="469.6258975219236" y1="482.4" x2="469.6258975219236" y2="485.2" stroke="#333333" stroke-width="1.0"/>
<text x="469.83" y="492.73" font-size="4.8" text-anchor="middle" fill="#444">3.0</text>
<text x="422.70" y="502.09" font-size="7.2" text-anchor="middle" font-weight="bold" textLength="53" lengthAdjust="spacingAndGlyphs" fill="#2a2a2a">Hazard ratio (95% CI)</text>
<rect x="0.5" y="0.5" width="519" height="509" fill="none" stroke="#5c5c5c" stroke-width="1"/>
</svg>
</body></html>
